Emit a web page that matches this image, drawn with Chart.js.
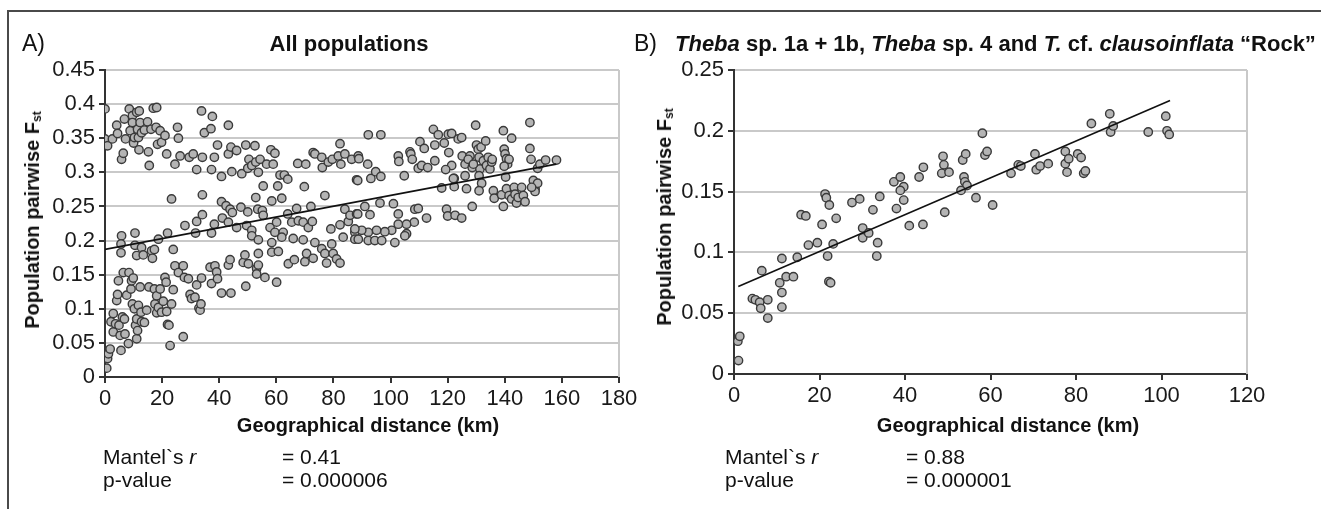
<!DOCTYPE html>
<html>
<head>
<meta charset="utf-8">
<script src="https://cdn.jsdelivr.net/npm/chart.js@4.4.1/dist/chart.umd.min.js"></script>
<style>
    html, body { margin: 0; padding: 0; background: #fff; }
    body { width: 1321px; height: 509px; overflow: hidden; position: relative; font-family: "Liberation Sans", Arial, sans-serif; color: #111; }
    #frame { position: absolute; left: 7px; top: 10px; width: 1400px; height: 600px; border: 2px solid #4a4a4a; }
    canvas { position: absolute; top: 0; }
    #chartA { left: 0; }
    #chartB { left: 650px; }
    .t { position: absolute; white-space: nowrap; line-height: 1; }
    .c { transform: translateX(-50%); }
    .lbl { font-size: 23px; }
    .ttl { font-size: 22px; font-weight: bold; }
    .ax { font-size: 20px; font-weight: bold; }
    .yt { font-size: 20px; font-weight: bold; transform: translate(-50%, -50%) rotate(-90deg); }
    .yt sub { font-size: 12px; line-height: 0; vertical-align: -2px; }
    .st { font-size: 21px; }
</style>
</head>
<body>
<div id="frame"></div>
<canvas id="chartA" width="650" height="509"></canvas>
<canvas id="chartB" width="671" height="509"></canvas>

<div class="t lbl" style="left:22px; top:32px;">A)</div>
<div class="t ttl c" style="left:349px; top:33px;">All populations</div>
<div class="t lbl" style="left:634px; top:32px;">B)</div>
<div class="t ttl" style="left:675px; top:33px;"><i>Theba</i> sp. 1a + 1b, <i>Theba</i> sp. 4 and <i>T.</i> cf. <i>clausoinflata</i> “Rock”</div>

<div class="t yt" style="left:32px; top:220px;">Population pairwise F<sub>st</sub></div>
<div class="t yt" style="left:664px; top:217px;">Population pairwise F<sub>st</sub></div>

<div class="t ax c" style="left:368px; top:415px;">Geographical distance (km)</div>
<div class="t ax c" style="left:1008px; top:415px;">Geographical distance (km)</div>

<div class="t st" style="left:103px; top:446px;">Mantel`s <i>r</i></div>
<div class="t st" style="left:282px; top:446px;">= 0.41</div>
<div class="t st" style="left:103px; top:469px;">p-value</div>
<div class="t st" style="left:282px; top:469px;">= 0.000006</div>

<div class="t st" style="left:725px; top:446px;">Mantel`s <i>r</i></div>
<div class="t st" style="left:906px; top:446px;">= 0.88</div>
<div class="t st" style="left:725px; top:469px;">p-value</div>
<div class="t st" style="left:906px; top:469px;">= 0.000001</div>

<script>
// A) all populations: geographical distance (km) vs pairwise Fst
const distA = [
    0, 0, 0.9, 2.6, 4.1, 4.4, 5.8, 6.4, 6.8, 7.2,
    8.5, 8.8, 9.6, 9.6, 10.0, 10.3, 11.1, 11.4, 11.7, 12.0,
    12.3, 11.9, 12.8, 13.8, 14.9, 15.2, 15.5, 16.1, 16.9, 18.1,
    17.9, 18.4, 19.3, 19.8, 21.0, 21.6, 24.5, 25.4, 25.7, 26.3,
    29.5, 30.9, 32.1, 33.8, 34.1, 34.8, 37.1, 37.6, 37.3, 38.3,
    39.4, 40.8, 43.2, 43.2, 44.1, 44.4, 46.1, 47.9, 49.3, 50.0,
    50.4, 51.4, 52.5, 52.8, 53.7, 54.3, 55.4, 56.6, 58.1, 58.9,
    59.5, 60.5, 61.3, 62.8, 64.0, 67.5, 69.8, 70.3, 72.9, 73.5,
    75.9, 76.1, 78.2, 79.6, 81.7, 82.3, 82.6, 84.0, 86.4, 88.1,
    88.7,
    23.3, 34.1, 5.8, 10.5, 28.0, 32.1, 34.1, 37.3, 38.3, 40.8,
    41.1, 42.4, 43.2, 43.8, 44.6, 46.1, 47.6, 50.0, 49.6, 51.4,
    52.8, 53.5, 55.1, 55.4, 57.8, 58.4, 59.5, 60.1, 61.9, 62.4,
    64.0, 65.4, 67.1, 67.7, 69.4, 71.2, 72.1, 72.6, 77.0, 79.1,
    82.3, 84.0, 85.2, 85.8, 87.5, 88.1, 21.9, 18.7, 31.7,
    5.6, 5.6, 10.5, 11.1, 12.8, 13.4, 16.3, 17.3, 16.6, 23.9,
    24.5, 25.7, 27.4, 27.8, 29.2, 32.1, 33.8, 36.8, 37.3, 38.5,
    39.1, 39.4, 40.8, 43.2, 44.1, 43.8, 48.4, 49.0, 50.2, 53.1,
    53.7, 53.7, 56.0, 58.4, 60.1, 60.7, 49.3, 53.1, 64.2, 66.3,
    70.0, 70.6, 72.9, 73.5, 75.9, 77.0, 77.6, 79.4, 79.9, 81.1,
    82.3, 83.4, 87.5,
    0.6, 0.9, 1.2, 1.8, 2.9, 2.1, 2.9, 3.7, 4.1, 4.4,
    4.7, 4.9, 5.3, 5.6, 6.4, 6.1, 6.8, 7.0, 7.6, 8.2,
    8.4, 9.1, 9.3, 9.6, 9.9, 10.3, 10.7, 11.1, 11.1, 11.4,
    11.7, 12.3, 12.6, 12.8, 13.8, 14.6, 15.4, 17.3, 17.5, 18.1,
    18.1, 18.7, 19.3, 19.8, 20.4, 21.0, 21.4, 21.6, 21.9, 22.4,
    22.8, 23.3, 23.9, 27.4, 29.8, 30.3, 31.5, 32.9, 33.3, 33.6,
    92.2, 96.6, 88.9, 92.0, 88.5, 93.1, 94.8, 96.6, 102.7, 102.9,
    104.8, 106.8, 107.1, 107.6, 109.7, 110.3, 110.9, 111.8, 113.0, 115.0,
    115.5, 115.5, 116.7, 118.8, 120.2, 120.4, 121.4, 121.4, 122.3, 123.7,
    124.9, 119.3, 125.1, 126.1, 127.8, 128.6, 129.8, 130.1, 130.7, 131.0,
    131.3, 131.7, 132.5, 133.3, 133.6, 134.2, 134.8, 135.4, 135.6, 139.5,
    139.8, 140.1, 140.6, 141.0, 141.5, 142.4, 148.8, 148.8, 149.2, 151.5,
    152.3, 154.3, 158.1, 127.2, 129.0, 126.1, 131.0, 131.9, 139.8, 140.3,
    117.9, 122.3, 122.0, 126.6, 131.0, 136.0, 136.3, 138.9, 139.5, 140.6,
    141.5, 142.4, 143.3, 143.6, 144.1, 144.7, 145.9, 146.5, 147.1, 150.0,
    150.6, 150.6, 151.5, 149.4,
    91.0, 96.3, 101.0, 102.7, 108.5, 109.7, 112.6, 119.6, 120.0, 122.6,
    124.9, 128.6, 88.5, 92.8, 108.3, 105.6, 102.7, 100.4, 98.0, 95.1,
    92.2, 89.9, 87.5, 105.6, 88.7, 92.2, 94.5, 96.9, 101.5, 105.0,
    51.4, 53.7, 58.4, 61.9, 65.9, 69.4
];
const fstA = [
    0.393, 0.349, 0.339, 0.349, 0.369, 0.357, 0.319, 0.328, 0.378, 0.349,
    0.393, 0.361, 0.383, 0.373, 0.343, 0.351, 0.388, 0.363, 0.351, 0.390,
    0.373, 0.333, 0.358, 0.362, 0.374, 0.330, 0.310, 0.363, 0.394, 0.395,
    0.366, 0.341, 0.361, 0.344, 0.354, 0.327, 0.312, 0.366, 0.350, 0.324,
    0.322, 0.327, 0.304, 0.390, 0.322, 0.358, 0.364, 0.382, 0.304, 0.322,
    0.340, 0.294, 0.369, 0.327, 0.337, 0.301, 0.332, 0.298, 0.340, 0.306,
    0.319, 0.310, 0.339, 0.315, 0.300, 0.319, 0.280, 0.312, 0.333, 0.312,
    0.328, 0.280, 0.296, 0.296, 0.290, 0.313, 0.279, 0.312, 0.329, 0.327,
    0.322, 0.307, 0.315, 0.319, 0.324, 0.342, 0.312, 0.327, 0.319, 0.289,
    0.324,
    0.261, 0.267, 0.207, 0.211, 0.222, 0.228, 0.238, 0.211, 0.224, 0.257,
    0.233, 0.251, 0.227, 0.246, 0.241, 0.219, 0.249, 0.242, 0.222, 0.215,
    0.263, 0.246, 0.244, 0.237, 0.219, 0.258, 0.212, 0.227, 0.262, 0.212,
    0.239, 0.227, 0.247, 0.229, 0.227, 0.219, 0.250, 0.228, 0.266, 0.217,
    0.223, 0.246, 0.228, 0.237, 0.212, 0.239, 0.211, 0.202, 0.211,
    0.195, 0.182, 0.193, 0.178, 0.190, 0.179, 0.185, 0.187, 0.174, 0.187,
    0.163, 0.153, 0.163, 0.146, 0.144, 0.135, 0.145, 0.161, 0.137, 0.163,
    0.154, 0.144, 0.123, 0.164, 0.123, 0.172, 0.168, 0.179, 0.166, 0.159,
    0.181, 0.164, 0.146, 0.183, 0.139, 0.184, 0.133, 0.151, 0.166, 0.172,
    0.169, 0.181, 0.174, 0.197, 0.188, 0.181, 0.167, 0.195, 0.181, 0.173,
    0.167, 0.205, 0.202,
    0.013, 0.027, 0.034, 0.041, 0.066, 0.081, 0.093, 0.078, 0.112, 0.121,
    0.141, 0.076, 0.061, 0.039, 0.153, 0.088, 0.085, 0.063, 0.120, 0.049,
    0.153, 0.129, 0.141, 0.107, 0.145, 0.100, 0.076, 0.085, 0.056, 0.068,
    0.105, 0.132, 0.095, 0.081, 0.080, 0.098, 0.132, 0.129, 0.107, 0.119,
    0.094, 0.102, 0.129, 0.095, 0.111, 0.146, 0.139, 0.096, 0.077, 0.076,
    0.046, 0.107, 0.128, 0.059, 0.121, 0.115, 0.117, 0.101, 0.098, 0.107,
    0.355, 0.355, 0.320, 0.312, 0.288, 0.291, 0.301, 0.294, 0.324, 0.316,
    0.295, 0.330, 0.327, 0.319, 0.306, 0.345, 0.310, 0.335, 0.307, 0.363,
    0.317, 0.340, 0.355, 0.343, 0.356, 0.329, 0.357, 0.310, 0.291, 0.349,
    0.351, 0.304, 0.324, 0.312, 0.324, 0.307, 0.369, 0.340, 0.334, 0.322,
    0.305, 0.337, 0.317, 0.346, 0.310, 0.322, 0.305, 0.315, 0.319, 0.361,
    0.334, 0.327, 0.320, 0.312, 0.319, 0.350, 0.373, 0.335, 0.319, 0.306,
    0.312, 0.318, 0.318, 0.319, 0.312, 0.295, 0.295, 0.284, 0.309, 0.293,
    0.277, 0.279, 0.291, 0.276, 0.273, 0.273, 0.262, 0.267, 0.250, 0.276,
    0.266, 0.261, 0.278, 0.268, 0.255, 0.263, 0.278, 0.266, 0.257, 0.288,
    0.276, 0.272, 0.284, 0.278,
    0.250, 0.255, 0.254, 0.239, 0.246, 0.247, 0.233, 0.246, 0.236, 0.237,
    0.233, 0.250, 0.239, 0.238, 0.227, 0.224, 0.224, 0.215, 0.213, 0.215,
    0.212, 0.215, 0.217, 0.210, 0.202, 0.200, 0.200, 0.200, 0.197, 0.207,
    0.207, 0.201, 0.197, 0.205, 0.203, 0.201
];
const trendDistA = [0, 158];
const trendFstA = [0.187, 0.312];

// B) Theba sp. 1a + 1b, sp. 4 and T. cf. clausoinflata "Rock"
const distB = [
    15.7, 16.8, 20.6, 21.3, 21.6, 22.3, 23.9, 27.6, 29.4, 30.1,
    30.1, 31.5, 32.5, 34.1, 33.6, 38.0, 37.4, 38.9, 39.7, 38.9,
    39.7, 41.0, 44.2, 43.3, 44.3, 48.9, 49.1, 48.6, 50.3, 49.3,
    53.5, 54.2, 53.8, 54.0, 54.5, 53.1, 56.6, 58.1, 58.7, 59.2,
    60.5, 17.4, 19.5, 23.2,
    64.8, 66.5, 67.1, 70.4, 70.7, 71.6, 73.5, 77.5, 77.5, 78.3,
    77.9, 80.4, 81.2, 81.8, 82.2, 83.6, 87.9, 88.1, 88.7, 96.9,
    101.0, 101.3, 101.8,
    0.9, 1.35, 1.05, 4.3, 5.0, 6.0, 6.25, 7.9, 7.9, 6.5,
    10.7, 11.2, 11.2, 11.2, 12.2, 13.9, 14.8, 21.9, 22.2, 22.6,
    33.4
];
const fstB = [
    0.131, 0.130, 0.123, 0.148, 0.145, 0.139, 0.128, 0.141, 0.144, 0.120,
    0.112, 0.116, 0.135, 0.146, 0.108, 0.136, 0.158, 0.162, 0.154, 0.151,
    0.143, 0.122, 0.123, 0.162, 0.170, 0.179, 0.172, 0.165, 0.166, 0.133,
    0.176, 0.181, 0.162, 0.158, 0.155, 0.151, 0.145, 0.198, 0.180, 0.183,
    0.139, 0.106, 0.108, 0.107,
    0.165, 0.172, 0.171, 0.181, 0.168, 0.171, 0.173, 0.183, 0.173, 0.177,
    0.166, 0.181, 0.178, 0.165, 0.167, 0.206, 0.214, 0.199, 0.204, 0.199,
    0.212, 0.200, 0.197,
    0.027, 0.031, 0.011, 0.062, 0.061, 0.059, 0.054, 0.061, 0.046, 0.085,
    0.075, 0.067, 0.055, 0.095, 0.080, 0.080, 0.096, 0.097, 0.076, 0.075,
    0.097
];
const trendDistB = [1, 102];
const trendFstB = [0.072, 0.225];

const yTicksA = ['0', '0.05', '0.1', '0.15', '0.2', '0.25', '0.3', '0.35', '0.4', '0.45'];
const yTicksB = ['0', '0.05', '0.1', '0.15', '0.2', '0.25'];
const xTicksA = ['0', '20', '40', '60', '80', '100', '120', '140', '160', '180'];
const xTicksB = ['0', '20', '40', '60', '80', '100', '120'];

const tickFont = { family: 'Liberation Sans', size: 22 };

// light grey right edge of the plot area
const plotEdge = {
    id: 'plotEdge',
    beforeDatasetsDraw(chart) {
        const a = chart.chartArea, c = chart.ctx;
        c.save();
        c.strokeStyle = '#c9c9c9';
        c.lineWidth = 2;
        c.beginPath();
        c.moveTo(a.right, a.top);
        c.lineTo(a.right, a.bottom);
        c.stroke();
        c.restore();
    }
};

function pairs(xs, ys) {
    return xs.map((x, i) => ({ x: x, y: ys[i] }));
}

function makeChart(id, xs, ys, tx, ty, xMax, yMax, yStep, xLabels, yLabels, yWidth, pad) {
    return new Chart(document.getElementById(id), {
        type: 'scatter',
        data: {
            datasets: [
                {
                    data: pairs(tx, ty),
                    type: 'line',
                    borderColor: '#111',
                    borderWidth: 1.6,
                    pointRadius: 0,
                    fill: false,
                    order: 0
                },
                {
                    data: pairs(xs, ys),
                    backgroundColor: '#b4b4b4',
                    borderColor: '#3a3a3a',
                    borderWidth: 1.4,
                    pointRadius: 4.2,
                    order: 1
                }
            ]
        },
        options: {
            responsive: false,
            animation: false,
            devicePixelRatio: 1,
            layout: { padding: pad },
            plugins: { legend: { display: false }, tooltip: { enabled: false } },
            scales: {
                x: {
                    type: 'linear',
                    min: 0,
                    max: xMax,
                    afterFit: function (s) { s.height = 40; s.paddingLeft = 0; s.paddingRight = 0; },
                    ticks: {
                        stepSize: 20,
                        padding: 3,
                        color: '#1a1a1a',
                        font: tickFont,
                        maxRotation: 0,
                        callback: (v, i) => xLabels[i]
                    },
                    grid: { drawOnChartArea: false, drawTicks: true, tickLength: 6, color: '#333', lineWidth: 2 },
                    border: { color: '#333', width: 2 }
                },
                y: {
                    min: 0,
                    max: yMax,
                    afterFit: function (s) { s.width = yWidth; s.paddingTop = 0; s.paddingBottom = 0; },
                    ticks: {
                        stepSize: yStep,
                        padding: 4,
                        color: '#1a1a1a',
                        font: tickFont,
                        callback: (v, i) => yLabels[i]
                    },
                    grid: { color: '#c9c9c9', lineWidth: 2, drawTicks: true, tickLength: 6, tickColor: '#333' },
                    border: { color: '#333', width: 2 }
                }
            }
        },
        plugins: [plotEdge]
    });
}

makeChart('chartA', distA, fstA, trendDistA, trendFstA, 180, 0.45, 0.05, xTicksA, yTicksA, 105,
    { left: 0, top: 70, right: 31, bottom: 92 });
makeChart('chartB', distB, fstB, trendDistB, trendFstB, 120, 0.25, 0.05, xTicksB, yTicksB, 84,
    { left: 0, top: 70, right: 74, bottom: 95 });
</script>
</body>
</html>
